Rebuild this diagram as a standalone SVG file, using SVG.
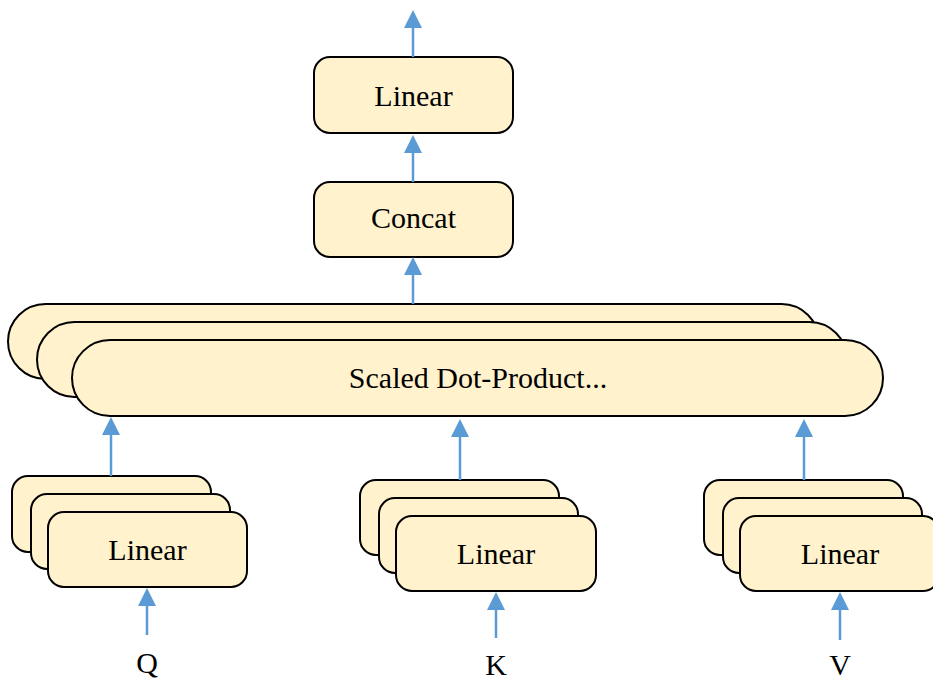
<svg xmlns="http://www.w3.org/2000/svg" width="933" height="680" viewBox="0 0 933 680">
  <defs>
    <marker id="head" markerUnits="userSpaceOnUse" markerWidth="18" markerHeight="18" refX="0" refY="9" orient="auto" viewBox="0 0 18 18">
      <path d="M0,0 L18,9 L0,18 z" fill="#5B9BD5"/>
    </marker>
    <style>
      .box { fill: #FFF2CC; stroke: #000; stroke-width: 2; }
      .lbl { font-family: "Liberation Serif", "Times New Roman", serif; font-size: 30px; fill: #000; text-anchor: middle; }
      .wire { stroke: #5B9BD5; stroke-width: 2.5; fill: none; marker-end: url(#head); }
    </style>
  </defs>
  <rect width="933" height="680" fill="#fff"/>

  <!-- output projection -->
  <g id="linear-out">
    <rect class="box" x="314" y="57" width="199" height="76" rx="16"/>
    <text class="lbl" x="413.5" y="106">Linear</text>
  </g>

  <g id="concat">
    <rect class="box" x="314" y="182" width="199" height="75" rx="16"/>
    <text class="lbl" x="413.5" y="228">Concat</text>
  </g>

  <!-- stacked attention heads -->
  <g id="attention">
    <rect class="box" x="8" y="304" width="811" height="75" rx="37.5"/>
    <rect class="box" x="37" y="322" width="810" height="75" rx="37.5"/>
    <rect class="box" x="72" y="340" width="811" height="76" rx="38"/>
    <text class="lbl" x="478" y="388">Scaled Dot-Product...</text>
  </g>

  <!-- per-input projections -->
  <g id="linear-q">
    <rect class="box" x="12" y="476" width="199" height="76" rx="16"/>
    <rect class="box" x="31" y="494" width="199" height="75" rx="16"/>
    <rect class="box" x="48" y="512" width="199" height="75" rx="16"/>
    <text class="lbl" x="147.5" y="560">Linear</text>
  </g>

  <g id="linear-k">
    <rect class="box" x="360" y="480" width="199" height="75" rx="16"/>
    <rect class="box" x="379" y="498" width="199" height="75" rx="16"/>
    <rect class="box" x="396" y="516" width="200" height="75" rx="16"/>
    <text class="lbl" x="496" y="564">Linear</text>
  </g>

  <g id="linear-v">
    <rect class="box" x="704" y="480" width="199" height="75" rx="16"/>
    <rect class="box" x="723" y="498" width="199" height="75" rx="16"/>
    <rect class="box" x="740" y="516" width="199" height="75" rx="16"/>
    <text class="lbl" x="840" y="564">Linear</text>
  </g>

  <!-- inputs -->
  <g id="input-q"><text class="lbl" x="147" y="673">Q</text></g>
  <g id="input-k"><text class="lbl" x="496" y="675">K</text></g>
  <g id="input-v"><text class="lbl" x="840" y="675">V</text></g>

  <g id="connectors">
    <line class="wire" x1="413" y1="57" x2="413" y2="28"/>
    <line class="wire" x1="413" y1="182" x2="413" y2="153"/>
    <line class="wire" x1="413" y1="304" x2="413" y2="275"/>
    <line class="wire" x1="111" y1="476" x2="111" y2="435"/>
    <line class="wire" x1="460" y1="480" x2="460" y2="437"/>
    <line class="wire" x1="804" y1="480" x2="804" y2="437"/>
    <line class="wire" x1="147" y1="635" x2="147" y2="606"/>
    <line class="wire" x1="496" y1="638" x2="496" y2="610"/>
    <line class="wire" x1="840" y1="640" x2="840" y2="610"/>
  </g>
</svg>
